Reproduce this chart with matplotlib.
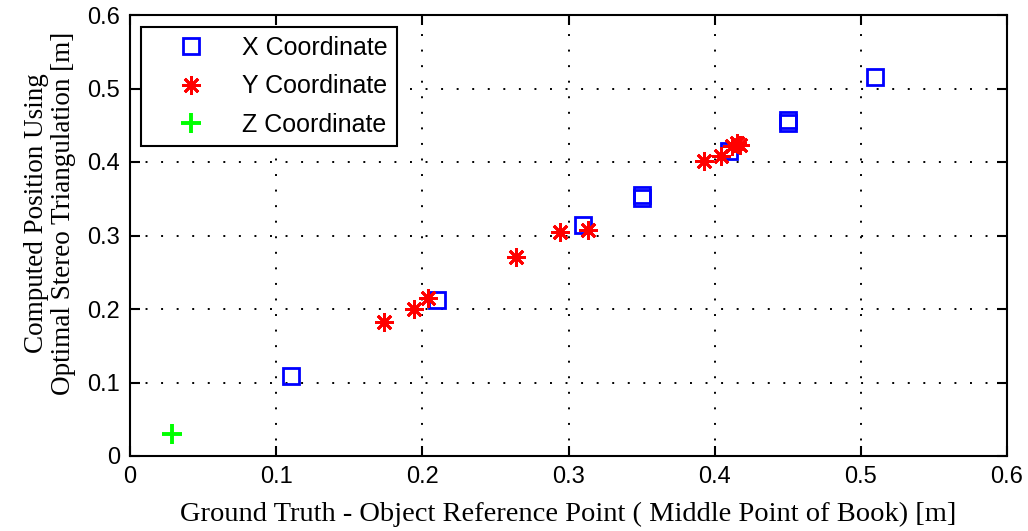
import numpy as np
import matplotlib
matplotlib.use("Agg")
import matplotlib.pyplot as plt

# ground truth vs. triangulated positions [m]
x_true = [0.11, 0.21, 0.31, 0.35, 0.35, 0.41, 0.45, 0.45, 0.51]
x_calc = [0.109, 0.212, 0.314, 0.351, 0.355, 0.415, 0.453, 0.457, 0.516]

y_true = [0.174, 0.194, 0.204, 0.264, 0.294, 0.313, 0.393, 0.404, 0.412, 0.415, 0.417]
y_calc = [0.182, 0.200, 0.215, 0.271, 0.305, 0.307, 0.401, 0.408, 0.422, 0.426, 0.423]

z_true = [0.029]
z_calc = [0.030]

ticks = [0, 0.1, 0.2, 0.3, 0.4, 0.5, 0.6]
tick_labels = ["0", "0.1", "0.2", "0.3", "0.4", "0.5", "0.6"]

serif = ["Liberation Serif", "DejaVu Serif"]
sans = ["Liberation Sans", "DejaVu Sans"]

fig = plt.figure(figsize=(10.28, 5.31), dpi=100)
ax = fig.add_axes([130 / 1028, 1 - 456 / 531, 877 / 1028, 441 / 531])

ax.plot(x_true, x_calc, linestyle="none", marker="s", markersize=12,
        markerfacecolor="none", markeredgecolor="#0000ff", markeredgewidth=2,
        label="X Coordinate")
ax.plot(y_true, y_calc, linestyle="none", marker=(8, 2, 0), markersize=13.5,
        color="#ff0000", markeredgewidth=2, label="Y Coordinate")
ax.plot(z_true, z_calc, linestyle="none", marker="+", markersize=14,
        color="#00ff00", markeredgewidth=2.8, label="Z Coordinate")

ax.set_xlim(0, 0.6)
ax.set_ylim(0, 0.6)
ax.set_xticks(ticks)
ax.set_yticks(ticks)
ax.set_xticklabels(tick_labels, family=sans, fontsize=17)
ax.set_yticklabels(tick_labels, family=sans, fontsize=17)
ax.tick_params(direction="in", length=7, width=1.5, top=True, right=True,
               pad=7)
ax.grid(True, color="black", linestyle=(0, (1, 7)), linewidth=1.4)
for s in ax.spines.values():
    s.set_linewidth(1.5)

ax.set_xlabel("Ground Truth - Object Reference Point ( Middle Point of Book) [m]",
              family=serif, fontsize=20.5, labelpad=10)
ax.set_ylabel("Computed Position Using\nOptimal Stereo Triangulation [m]",
              family=serif, fontsize=19.5, linespacing=1.1)
ax.yaxis.set_label_coords(-0.062, 0.55)

leg = ax.legend(loc="upper left", bbox_to_anchor=(11 / 877, 1 - 12 / 441),
                borderaxespad=0,
                prop={"family": sans, "size": 18},
                fancybox=False, framealpha=1, edgecolor="black",
                handlelength=3.3, handletextpad=0.4, borderpad=0.35,
                labelspacing=0.58, markerscale=1.0)
leg.get_frame().set_linewidth(1.5)

fig.savefig("out.png", dpi=100)
